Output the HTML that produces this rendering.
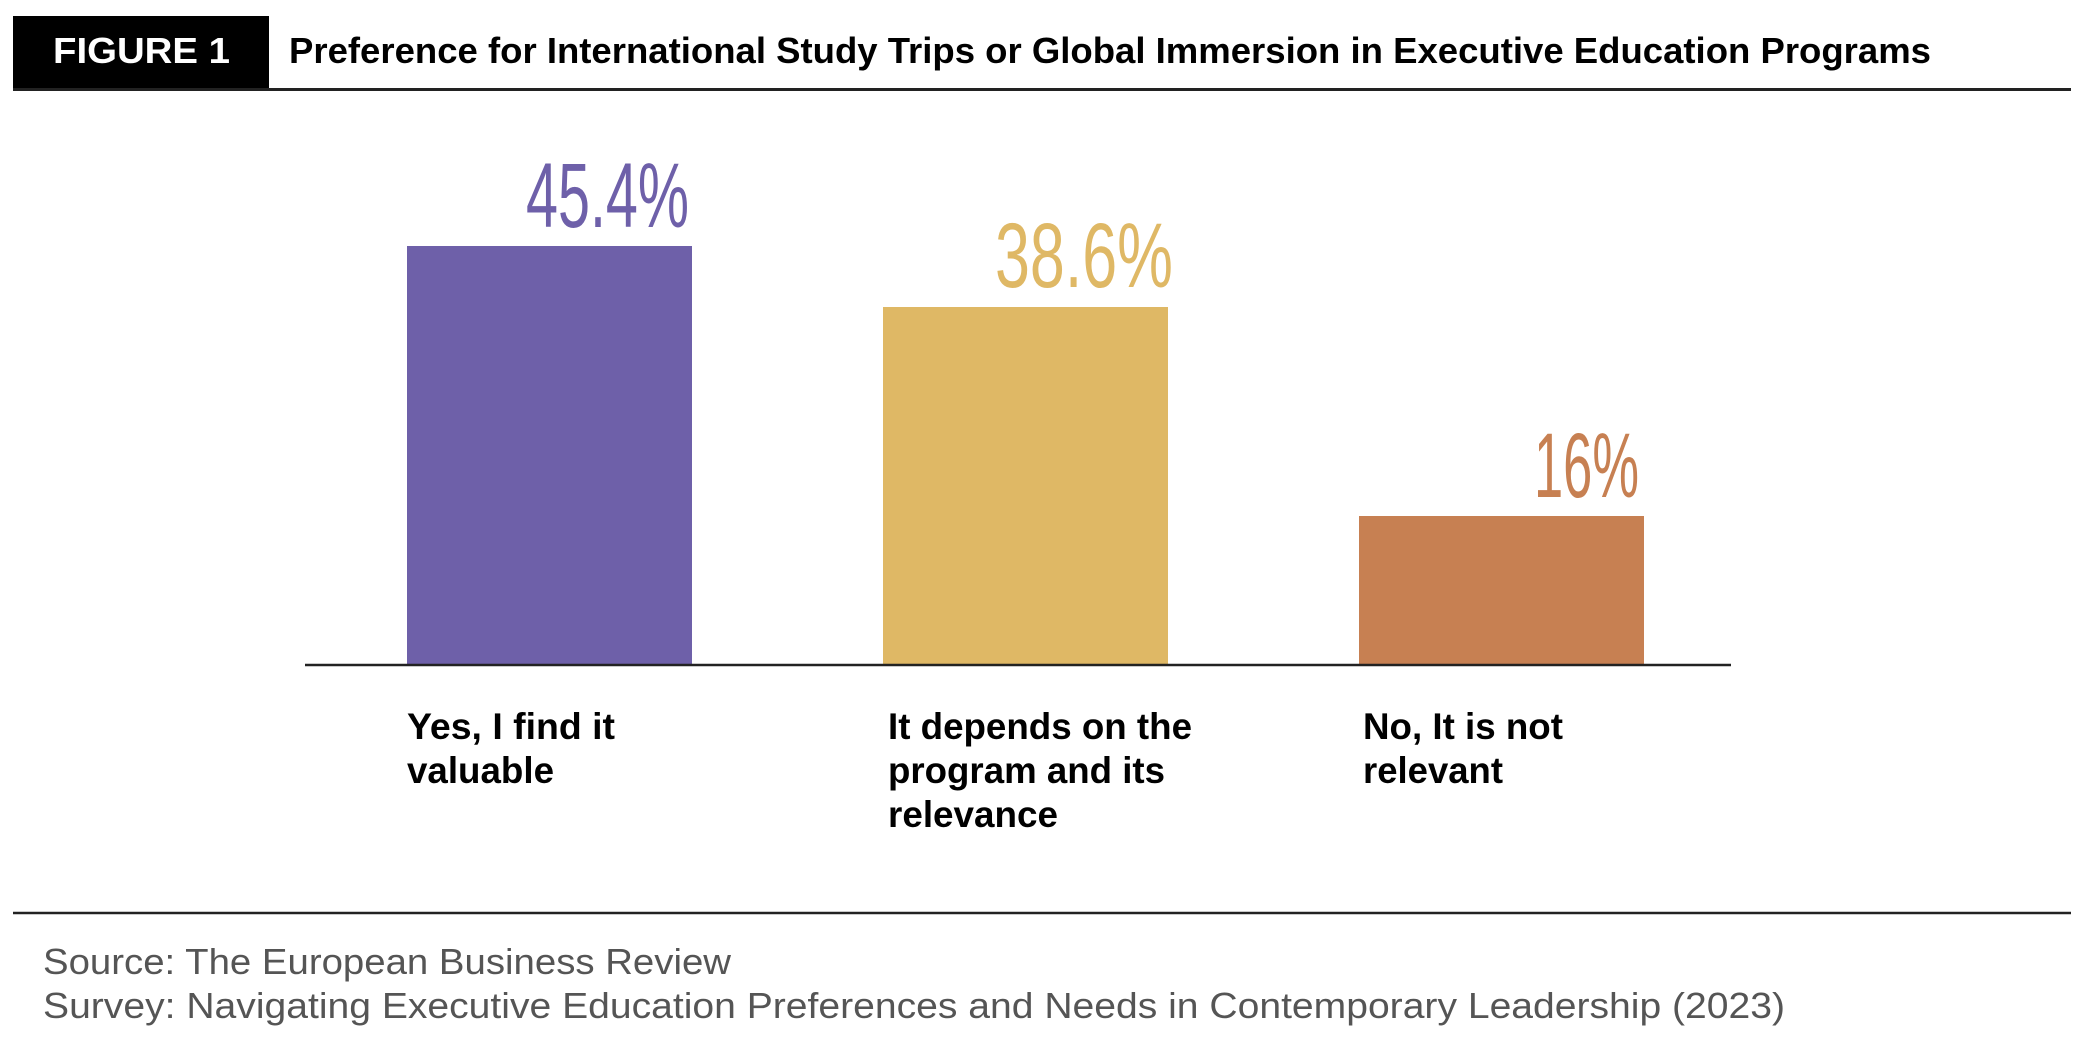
<!DOCTYPE html>
<html><head><meta charset="utf-8"><style>
html,body{margin:0;padding:0;background:#fff;}
svg{display:block;}
text{font-family:"Liberation Sans Narrow","Liberation Sans",sans-serif;}
</style></head><body>
<svg width="2084" height="1059" viewBox="0 0 2084 1059" xmlns="http://www.w3.org/2000/svg">
<rect x="13" y="16" width="256" height="73" fill="#000"/>
<line x1="13" y1="89.5" x2="2071" y2="89.5" stroke="#222" stroke-width="3"/>
<text x="53" y="63" font-size="36" font-weight="bold" fill="#fff" textLength="177" lengthAdjust="spacingAndGlyphs">FIGURE 1</text>
<text x="289" y="63" font-size="36" font-weight="bold" fill="#000" textLength="1642" lengthAdjust="spacingAndGlyphs">Preference for International Study Trips or Global Immersion in Executive Education Programs</text>

<rect x="407" y="246" width="285" height="418" fill="#6e60a9"/>
<rect x="883" y="307" width="285" height="357" fill="#dfb865"/>
<rect x="1359" y="516" width="285" height="148" fill="#c78052"/>
<line x1="305" y1="665" x2="1731" y2="665" stroke="#222" stroke-width="2.5"/>

<text x="526" y="227" font-size="92" fill="#6e60a9" textLength="163" lengthAdjust="spacingAndGlyphs">45.4%</text>
<text x="995" y="287" font-size="92" fill="#dfb865" textLength="178" lengthAdjust="spacingAndGlyphs">38.6%</text>
<text x="1534" y="497" font-size="92" fill="#c78052" textLength="105" lengthAdjust="spacingAndGlyphs">16%</text>

<g font-size="37" fill="#000" font-weight="bold">
<text x="407" y="739" textLength="208" lengthAdjust="spacingAndGlyphs">Yes, I find it</text>
<text x="407" y="783" textLength="147" lengthAdjust="spacingAndGlyphs">valuable</text>
<text x="888" y="739" textLength="304" lengthAdjust="spacingAndGlyphs">It depends on the</text>
<text x="888" y="783" textLength="277" lengthAdjust="spacingAndGlyphs">program and its</text>
<text x="888" y="827" textLength="170" lengthAdjust="spacingAndGlyphs">relevance</text>
<text x="1363" y="739" textLength="200" lengthAdjust="spacingAndGlyphs">No, It is not</text>
<text x="1363" y="783" textLength="140" lengthAdjust="spacingAndGlyphs">relevant</text>
</g>

<line x1="13" y1="913" x2="2071" y2="913" stroke="#222" stroke-width="2.5"/>
<g font-size="36" fill="#555">
<text x="43" y="974" textLength="688" lengthAdjust="spacingAndGlyphs">Source: The European Business Review</text>
<text x="43" y="1018" textLength="1742" lengthAdjust="spacingAndGlyphs">Survey: Navigating Executive Education Preferences and Needs in Contemporary Leadership (2023)</text>
</g>
</svg>
</body></html>
